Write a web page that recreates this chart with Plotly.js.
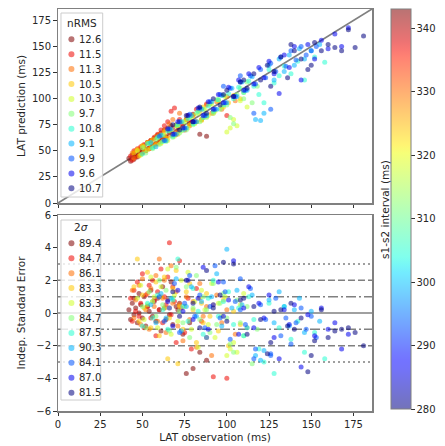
<!DOCTYPE html>
<html><head><meta charset="utf-8">
<script src="https://cdn.plot.ly/plotly-3.0.1.min.js"></script>
<style>html,body{margin:0;padding:0;background:#fff;}</style>
</head><body>
<div id="chart" style="width:445px;height:446px;"></div>
<script>
// ---- legend labels / groups ----
const nRMSLabels = ["12.6","11.5","11.3","10.5","10.3","9.7","10.8","9.1","9.9","9.6","10.7"];
const sigmaLabels = ["89.4","84.7","86.1","83.3","83.3","84.7","87.5","90.3","84.1","87.0","81.5"];
const intervals = [343, 337, 330, 324, 318, 312, 305, 299, 293, 286, 280];

// ---- data per group: LAT observation, LAT prediction, indep. standard error ----
const obs0  = [42,43,44,45,45,46,47,48,48,49,50,51,52,53,54,55,56,57,58,59,60,61,62,63,64,65,66,67,68,70,71,72,74,76,78,80,84,88];
const pred0 = [43,40,46,42,48,45,44,50,47,52,49,55,51,58,53,60,55,62,57,65,59,67,61,70,63,72,68,74,66,75,70,78,73,80,76,85,66,64];
const err0  = [0.2,-0.4,0.6,-0.1,0.9,0.3,-0.6,1.2,0.0,0.5,-0.3,1.0,-0.8,0.4,0.1,1.4,-0.2,0.7,-0.5,0.9,0.2,-1.1,1.6,0.3,-0.4,0.8,-0.1,1.9,-0.7,0.4,0.2,0.6,-1.3,-3.7,-0.6,-3.4,-2.4,-2.9];

const obs1  = [43,44,45,46,47,48,49,50,51,52,53,54,55,56,57,58,59,60,61,62,63,64,65,66,67,68,69,70,72,73,75,77,79,82,85,88,92,100];
const pred1 = [45,41,50,44,52,46,54,48,56,50,58,52,60,55,63,57,66,59,70,62,74,64,78,68,88,72,91,66,80,76,70,84,78,90,80,95,88,84];
const err1  = [0.9,-0.5,1.4,0.1,1.9,-0.2,0.6,2.4,-0.9,1.1,0.4,1.7,-0.3,2.0,0.8,-1.4,1.3,0.2,2.7,-0.6,1.0,0.5,2.2,4.3,-0.1,1.6,0.7,-1.8,3.2,0.3,-1.2,0.9,-2.2,1.5,-0.5,-1.5,-3.9,-4.0];

const obs2  = [44,45,46,48,49,50,52,53,54,55,57,58,59,60,62,63,64,66,67,68,70,71,72,74,76,78,80,82,84,86,88,91,94,97,100,105];
const pred2 = [48,43,50,52,47,55,50,58,52,60,56,64,57,66,60,70,62,76,65,80,68,74,86,72,80,74,84,78,90,82,94,86,97,90,102,98];
const err2  = [1.4,-0.3,0.8,1.7,-0.7,2.1,0.2,1.2,-1.0,1.5,0.4,2.3,-0.5,3.3,0.9,2.0,-1.2,0.3,2.9,0.6,1.3,-0.8,0.5,-1.7,1.0,-0.4,0.7,-2.1,1.8,-0.2,0.4,-2.6,1.1,-0.6,0.2,-1.3];

const obs3  = [45,47,48,50,51,53,55,56,58,60,61,63,65,66,68,70,71,72,74,76,78,80,82,84,85,86,88,90,92,95,98,101,104,108];
const pred3 = [48,51,45,55,50,58,53,61,56,64,58,68,62,71,65,74,66,78,72,80,75,84,78,88,79,92,83,95,86,98,92,96,103,100];
const err3  = [1.6,3.3,-0.5,1.1,0.3,2.5,-0.9,0.7,1.9,-1.4,1.0,2.2,-2.8,-0.3,1.5,2.6,-3.1,0.4,-1.0,1.3,1.8,0.2,-1.8,0.9,0.6,-0.6,1.2,-0.2,0.5,-1.1,0.8,-2.0,0.1,-0.7];

const obs4  = [47,49,51,53,55,57,59,61,63,65,67,69,71,73,75,77,79,81,83,85,87,89,91,93,95,97,99,100,102,104,106,108,110,112];
const pred4 = [50,46,54,51,58,54,62,57,65,60,70,64,74,69,78,72,82,76,86,80,90,84,95,88,99,92,102,68,72,80,74,98,106,92];
const err4  = [0.9,1.7,-0.4,0.5,2.2,1.0,-0.9,1.6,0.3,2.7,-1.3,1.1,-0.5,2.0,0.4,2.5,-1.0,0.7,-2.1,1.4,0.2,-0.7,1.8,-1.5,0.6,-0.2,1.0,-2.6,-2.2,-1.8,-2.4,0.5,1.2,-0.9];

const obs5  = [50,52,54,56,58,60,62,64,66,68,70,72,74,76,78,80,82,84,86,88,90,92,94,96,98,100,102,104,106,108,110,112,115,118];
const pred5 = [53,48,57,52,61,56,65,59,69,63,74,67,78,70,82,75,86,78,90,82,95,86,99,90,103,94,82,76,104,110,100,116,96,112];
const err5  = [0.4,-0.9,1.3,0.7,-0.2,2.0,0.5,1.4,-1.1,0.9,2.8,0.1,-0.6,1.6,-1.5,0.3,2.3,-0.4,1.0,0.2,-1.2,1.8,-0.7,0.6,1.2,-0.3,-1.9,-2.4,0.8,-0.6,-1.4,0.4,-3.1,-1.0];

const obs6  = [50,53,56,59,62,65,68,71,74,77,80,83,86,89,92,95,98,101,104,107,110,113,116,119,122,125,128,131,134,138,142,146,152,158];
const pred6 = [47,57,53,63,59,69,64,75,70,81,76,88,82,93,88,99,94,105,100,111,106,117,112,104,96,128,115,122,131,124,136,118,140,135];
const err6  = [-0.8,0.6,-0.3,1.1,0.2,-1.0,0.8,3.3,0.4,-0.5,1.5,0.1,-1.3,0.9,2.0,-0.2,0.7,1.3,-0.7,0.3,-1.4,1.0,-0.4,-2.2,-3.0,0.6,-3.7,-0.9,0.4,-1.6,-0.5,-2.4,-1.2,-2.8];

const obs7  = [55,58,61,64,67,70,73,76,79,82,85,88,91,94,97,100,103,106,109,112,115,117,120,122,125,128,131,134,137,140,143,146,150,155];
const pred7 = [58,54,65,60,71,66,78,72,84,78,90,84,97,90,103,96,110,102,116,108,121,80,79,86,132,118,138,126,142,132,148,138,146,152];
const err7  = [0.5,-0.6,1.2,-0.3,0.9,2.1,-1.1,0.4,1.6,-0.2,0.7,-1.5,1.0,2.4,-0.8,3.9,0.3,1.4,0.5,-0.9,1.1,-2.6,-2.9,-2.3,0.8,-0.6,1.3,0.4,-0.8,0.2,0.9,-1.2,0.1,-0.5];

const obs8  = [60,63,66,69,72,75,78,81,84,87,90,93,96,99,102,105,108,111,114,117,120,123,126,129,132,135,138,141,144,147,150,153,116,126,98,108];
const pred8 = [64,60,71,66,78,72,85,78,91,84,97,90,104,96,110,102,116,108,122,114,128,120,134,126,140,131,146,137,150,142,146,150,86,90,112,122];
const err8  = [1.0,-0.5,0.3,1.8,-1.2,0.6,2.3,-0.2,1.1,-0.9,0.4,2.9,-0.3,1.3,-1.6,0.7,0.2,-0.7,1.5,-2.2,0.5,-0.4,-2.6,0.9,-1.4,-0.3,-1.9,-0.6,0.3,-1.0,-0.2,-1.5,-2.8,-2.5,1.9,2.1];

const obs9  = [65,68,71,74,77,80,83,86,89,92,95,98,101,104,107,110,113,116,119,122,125,128,131,134,137,140,144,148,152,156,160,164,168,172];
const pred9 = [71,66,78,72,84,78,91,84,97,90,104,96,111,102,118,108,124,114,130,120,136,124,105,142,130,150,118,152,138,156,148,162,150,168];
const err9  = [0.7,-0.8,1.4,0.1,2.0,-0.4,0.9,2.8,-1.0,0.5,1.9,-0.2,0.8,3.2,-1.3,0.3,1.6,-0.9,0.6,-0.3,1.1,-1.5,-2.8,0.2,-0.7,0.5,-3.3,-0.1,-1.4,0.3,-1.0,-0.6,-2.2,-1.3];

const obs10  = [68,72,76,80,84,88,92,96,100,104,108,112,116,120,124,128,132,136,140,144,148,152,156,160,164,168,172,176,181,98,110,126,138,150];
const pred10 = [75,70,84,78,92,86,100,94,108,102,116,110,124,118,132,126,140,120,146,138,128,154,146,152,149,146,166,149,160,104,118,112,152,132];
const err10  = [1.3,-0.2,2.0,0.6,-0.9,2.6,0.3,1.1,-0.5,3.0,0.8,-1.3,0.4,-0.4,-2.5,0.1,0.2,-0.8,-1.0,-0.3,-3.6,-1.7,0.2,-1.5,-1.1,-1.0,-0.9,-1.2,-2.0,3.1,0.9,-1.8,0.6,-2.6];

const refLevels = [0, 1, -1, 2, -2, 3, -3];

const obs  = [obs0,obs1,obs2,obs3,obs4,obs5,obs6,obs7,obs8,obs9,obs10];
const pred = [pred0,pred1,pred2,pred3,pred4,pred5,pred6,pred7,pred8,pred9,pred10];
const err  = [err0,err1,err2,err3,err4,err5,err6,err7,err8,err9,err10];

// ---- matplotlib "jet" colormap with alpha ----
const CMIN = 280, CMAX = 343, ALPHA = 0.55;
const JR = [[0,0],[0.35,0],[0.66,1],[0.89,1],[1,0.5]];
const JG = [[0,0],[0.125,0],[0.375,1],[0.64,1],[0.91,0],[1,0]];
const JB = [[0,0.5],[0.11,1],[0.34,1],[0.65,0],[1,0]];
function lerp(p,t){for(let i=1;i<p.length;i++){if(t<=p[i][0]){const a=p[i-1],b=p[i];return a[1]+(b[1]-a[1])*(t-a[0])/(b[0]-a[0]);}}return p[p.length-1][1];}
function jet(t,a){return 'rgba('+Math.round(255*lerp(JR,t))+','+Math.round(255*lerp(JG,t))+','+Math.round(255*lerp(JB,t))+','+a+')';}
const colorscale=[];for(let i=0;i<=50;i++){const t=i/50;colorscale.push([t,jet(t,ALPHA)]);}

// ---- geometry helpers (pixel -> paper) ----
const W=445,H=446,ML=58,MR=71,MT=9,MB=35;
const PW=W-ML-MR, PH=H-MT-MB;
const px=x=>(x-ML)/PW, py=y=>(H-MB-y)/PH;

const FONT="DejaVu Sans";
const traces=[];
for(let g=0;g<obs.length;g++){
  const cvals=obs[g].map(()=>intervals[g]);
  traces.push({type:'scatter',mode:'markers',x:obs[g],y:pred[g],xaxis:'x',yaxis:'y',
    marker:{size:5,color:cvals,coloraxis:'coloraxis',line:{width:0}},showlegend:false,hoverinfo:'skip'});
  traces.push({type:'scatter',mode:'markers',x:obs[g],y:err[g],xaxis:'x2',yaxis:'y2',
    marker:{size:5,color:cvals,coloraxis:'coloraxis',line:{width:0}},showlegend:false,hoverinfo:'skip'});
}

const GRAY='#808080';
const shapes=[{type:'line',xref:'x domain',yref:'y domain',x0:0,y0:0,x1:1,y1:1,line:{color:GRAY,width:1.5},layer:'below'}];
const dashFor={0:'solid',1:'10px,3px,2px,3px',2:'7px,3px',3:'2px,3px'};
refLevels.forEach(v=>{
  shapes.push({type:'line',xref:'x2 domain',yref:'y2',x0:0,x1:1,y0:v,y1:v,layer:'below',
    line:{color:GRAY,width:1.5,dash:dashFor[Math.abs(v)]}});
});

const annotations=[];
function addLegend(title, labels, box, titleY, firstY, step){
  shapes.push({type:'rect',xref:'paper',yref:'paper',x0:px(box[0]),x1:px(box[1]),y0:py(box[3]),y1:py(box[2]),
    fillcolor:'rgba(255,255,255,0.8)',line:{color:'#cccccc',width:1},layer:'above'});
  annotations.push({xref:'paper',yref:'paper',x:px((box[0]+box[1])/2),y:py(titleY),xanchor:'center',yanchor:'middle',
    text:title,showarrow:false,font:{family:FONT,size:10.5,color:'#262626'}});
  labels.forEach((lab,i)=>{
    const yy=firstY+i*step;
    const t=(intervals[i]-CMIN)/(CMAX-CMIN);
    shapes.push({type:'circle',xref:'paper',yref:'paper',xsizemode:'pixel',ysizemode:'pixel',
      xanchor:px(71.5),yanchor:py(yy),x0:-3,x1:3,y0:-3,y1:3,fillcolor:jet(t,ALPHA),line:{width:0},layer:'above'});
    annotations.push({xref:'paper',yref:'paper',x:px(77),y:py(yy),xanchor:'left',yanchor:'middle',
      text:lab,showarrow:false,font:{family:FONT,size:10,color:'#262626'}});
  });
}
addLegend('nRMS', nRMSLabels, [61,103,13,197], 22.5, 39.3, 14.9);
addLegend('2<i>σ</i>', sigmaLabels, [61,101,220,400], 227, 243.3, 14.94);

annotations.push({xref:'paper',yref:'paper',x:px(387),y:py(209),xanchor:'center',yanchor:'middle',textangle:-90,
  text:'s1-s2 interval (ms)',showarrow:false,font:{family:FONT,size:10.5,color:'#262626'}});

const axCommon={showline:true,mirror:true,linecolor:GRAY,linewidth:1.5,showgrid:false,zeroline:false,
  ticks:'outside',ticklen:3.5,tickwidth:1,tickcolor:'#333',tickfont:{family:FONT,size:10,color:'#262626'}};

const layout={
  width:W,height:H,margin:{l:ML,r:MR,t:MT,b:MB},paper_bgcolor:'#fff',plot_bgcolor:'#fff',
  font:{family:FONT,color:'#262626'},showlegend:false,
  xaxis:Object.assign({},axCommon,{anchor:'y',range:[0,186],tick0:0,dtick:25,showticklabels:false,matches:'x2'}),
  yaxis:Object.assign({},axCommon,{domain:[py(203),1],range:[0,186],tick0:0,dtick:25,
    title:{text:'LAT prediction (ms)',font:{family:FONT,size:10.5,color:'#262626'},standoff:4}}),
  xaxis2:Object.assign({},axCommon,{anchor:'y2',range:[0,186],tick0:0,dtick:25,
    title:{text:'LAT observation (ms)',font:{family:FONT,size:10.5,color:'#262626'},standoff:4}}),
  yaxis2:Object.assign({},axCommon,{domain:[0,py(215)],range:[-6,6],tick0:-6,dtick:2,
    title:{text:'Indep. Standard Error',font:{family:FONT,size:10.5,color:'#262626'},standoff:8}}),
  coloraxis:{cmin:CMIN,cmax:CMAX,colorscale:colorscale,
    colorbar:{x:px(393),xanchor:'left',xref:'paper',y:py(209),yanchor:'middle',yref:'paper',
      len:(409-9)/PH,lenmode:'fraction',thickness:20,thicknessmode:'pixels',xpad:0,ypad:0,
      outlinecolor:GRAY,outlinewidth:1,ticks:'outside',ticklen:3.5,tickcolor:'#333',
      tick0:280,dtick:10,tickfont:{family:FONT,size:10,color:'#262626'}}},
  shapes:shapes,annotations:annotations
};
Plotly.newPlot('chart',traces,layout,{displayModeBar:false,staticPlot:true});
</script>
</body></html>
